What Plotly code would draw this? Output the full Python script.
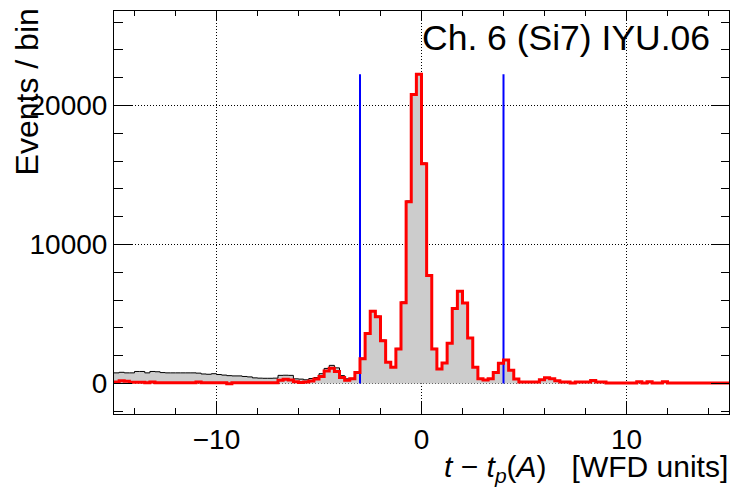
import numpy as np
import plotly.graph_objects as go

# ---- data ----
bin_low = -15.0
bin_width = 0.25

# red histogram (selected), 120 bins from -15 to 15
red_counts = [
    100, 200, 150, 80, 80, 80, 40, 110, 40, 40,
    40, 40, 40, 40, 40, 40, 100, 40, 40, 40,
    40, 40, -30, 40, 40, 40, 40, 40, 40, 40,
    40, 50, 230, 300, 240, 120, 60, 100, 180, 320,
    500, 900, 1090, 850, 430, 220, 330, 790, 1770, 3590,
    5200, 4790, 3070, 1530, 1170, 2470, 5810, 13080, 20790, 22250,
    15810, 7760, 2470, 1030, 1470, 2900, 5400, 6640, 5780, 3260,
    1170, 330, 250, 330, 790, 1450, 1690, 940, 320, 110,
    110, 110, 110, 260, 410, 330, 200, 110, 110, 30,
    110, 110, 110, 215, 110, 110, 30, 30, 30, 30,
    30, 30, 120, 30, 120, 30, 30, 120, 30, 30,
    30, 30, 30, 30, 30, 30, 30, 30, 30, 30,
]

# grey filled histogram (all), 120 bins from -15 to 15
grey_counts = [
    760, 800, 760, 760, 860, 860, 760, 860, 840, 780,
    760, 760, 760, 760, 760, 760, 740, 680, 660, 700,
    640, 600, 560, 540, 540, 500, 470, 400, 380, 370,
    370, 380, 580, 590, 580, 330, 310, 260, 350, 420,
    700, 1080, 1300, 1120, 560, 330, 370, 830, 1820, 3640,
    5250, 4840, 3120, 1580, 1220, 2520, 5860, 13130, 20840, 22300,
    15860, 7810, 2520, 1045, 1485, 2915, 5415, 6655, 5795, 3275,
    1185, 345, 265, 345, 805, 1465, 1705, 955, 335, 125,
    125, 125, 125, 275, 425, 345, 215, 125, 125, 45,
    125, 125, 125, 230, 125, 125, 45, 45, 45, 45,
    45, 45, 135, 45, 135, 45, 45, 135, 45, 45,
    45, 45, 45, 45, 45, 45, 45, 45, 45, 45,
]

cut_positions = [-3.0, 4.0]

x_ticks = [-10, 0, 10]
y_ticks = [0, 10000, 20000]

title_text = "Ch. 6 (Si7) IYU.06"
y_title = "Events / bin"
x_title = "<i>t</i> − <i>t</i><sub><i>p</i></sub>(<i>A</i>)&nbsp;&nbsp;&nbsp;[WFD units]"

# ---- build ----
FONT = "Liberation Sans, Arial, Helvetica, sans-serif"
GRID_DASH = "1px,2px"
n = len(red_counts)
edges = bin_low + bin_width * np.arange(n + 1)


def step_xy(counts):
    return list(edges), list(counts) + [counts[-1]]


fig = go.Figure()

gx, gy = step_xy(grey_counts)
fig.add_trace(go.Scatter(
    x=gx, y=gy, mode="lines", line=dict(shape="hv", color="black", width=1),
    fill="tozeroy", fillcolor="rgb(204,204,204)", hoverinfo="skip", showlegend=False))

peak = max(red_counts)
for c in cut_positions:
    fig.add_trace(go.Scatter(
        x=[c, c], y=[0, peak], mode="lines", line=dict(color="#0000ff", width=2),
        hoverinfo="skip", showlegend=False))

rx, ry = step_xy(red_counts)
fig.add_trace(go.Scatter(
    x=rx, y=ry, mode="lines", line=dict(shape="hv", color="#ff0000", width=3),
    hoverinfo="skip", showlegend=False))

x_range = [edges[0], edges[-1]]
y_range = [-2200, 26800]

fig.update_layout(
    width=733, height=487,
    margin=dict(l=114, r=4, t=11, b=73),
    paper_bgcolor="white", plot_bgcolor="white",
    font=dict(family=FONT, color="black"),
    xaxis=dict(
        range=x_range, tickvals=x_ticks, ticks="inside", ticklen=12, tickwidth=1,
        tickcolor="black", showline=True, linecolor="black", linewidth=1,
        showgrid=True, gridcolor="black", griddash=GRID_DASH, gridwidth=1, zeroline=False,
        tickfont=dict(size=28, family=FONT, color="black"),
        minor=dict(dtick=2, tick0=0, ticks="inside", ticklen=6, tickcolor="black", showgrid=False),
    ),
    yaxis=dict(
        range=y_range, tickvals=y_ticks, tickformat="d", ticks="inside", ticklen=18, tickwidth=1,
        tickcolor="black", showline=True, linecolor="black", linewidth=1,
        showgrid=True, gridcolor="black", griddash=GRID_DASH, gridwidth=1, zeroline=False,
        tickfont=dict(size=28, family=FONT, color="black"),
        minor=dict(dtick=2000, tick0=0, ticks="inside", ticklen=9, tickcolor="black", showgrid=False),
    ),
    xaxis2=dict(
        overlaying="x", side="top", range=x_range, tickvals=x_ticks, ticks="inside",
        ticklen=10, tickcolor="black", showline=True, linecolor="black", linewidth=1,
        showgrid=False, zeroline=False, showticklabels=False,
        minor=dict(dtick=2, tick0=0, ticks="inside", ticklen=5, tickcolor="black", showgrid=False),
    ),
    yaxis2=dict(
        overlaying="y", side="right", range=y_range, tickvals=y_ticks, ticks="inside",
        ticklen=18, tickcolor="black", showline=True, linecolor="black", linewidth=1,
        showgrid=False, zeroline=False, showticklabels=False,
        minor=dict(dtick=2000, tick0=0, ticks="inside", ticklen=8, tickcolor="black", showgrid=False),
    ),
    annotations=[
        dict(text=title_text, xref="paper", yref="paper", x=0.9724, y=0.933,
             xanchor="right", yanchor="middle", showarrow=False,
             font=dict(size=35.5, family=FONT, color="black")),
        dict(text=y_title, xref="paper", yref="paper", x=(27 - 114) / 615, y=0.798,
             xanchor="center", yanchor="middle", textangle=-90, showarrow=False,
             font=dict(size=32, family=FONT, color="black")),
        dict(text=x_title, xref="paper", yref="paper", x=1.0016, y=-0.136,
             xanchor="right", yanchor="middle", showarrow=False,
             font=dict(size=30, family=FONT, color="black")),
    ],
)

# dummy invisible trace so the secondary axes are drawn
fig.add_trace(go.Scatter(x=[x_range[0]], y=[y_range[0]], xaxis="x2", yaxis="y2",
                         mode="markers", marker=dict(opacity=0), hoverinfo="skip",
                         showlegend=False))

fig.write_html("out.html")
